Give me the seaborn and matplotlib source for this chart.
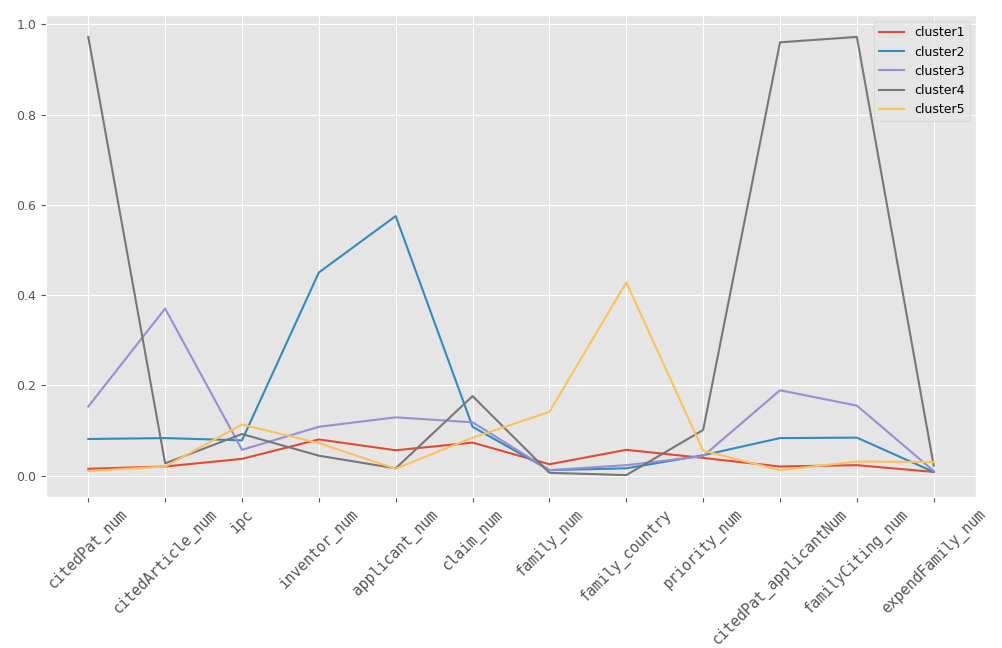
import matplotlib
matplotlib.use("Agg")
import matplotlib.pyplot as plt
import seaborn as sns
import pandas as pd

features = ["citedPat_num", "citedArticle_num", "ipc", "inventor_num", "applicant_num",
            "claim_num", "family_num", "family_country", "priority_num",
            "citedPat_applicantNum", "familyCiting_num", "expendFamily_num"]
cluster1 = [0.015, 0.020, 0.037, 0.080, 0.056, 0.073, 0.025, 0.057, 0.039, 0.020, 0.023, 0.008]
cluster2 = [0.081, 0.083, 0.078, 0.450, 0.575, 0.108, 0.012, 0.016, 0.045, 0.083, 0.084, 0.008]
cluster3 = [0.153, 0.370, 0.057, 0.108, 0.129, 0.118, 0.012, 0.023, 0.043, 0.189, 0.155, 0.010]
cluster4 = [0.972, 0.027, 0.092, 0.044, 0.016, 0.176, 0.006, 0.001, 0.101, 0.960, 0.972, 0.022]
cluster5 = [0.010, 0.020, 0.113, 0.072, 0.015, 0.084, 0.141, 0.428, 0.055, 0.012, 0.031, 0.030]
names = ["cluster1", "cluster2", "cluster3", "cluster4", "cluster5"]
colors = ["#E24A33", "#348ABD", "#988ED5", "#777777", "#FBC15E"]

plt.style.use("ggplot")
rows = []
for n, vals in zip(names, [cluster1, cluster2, cluster3, cluster4, cluster5]):
    for i, v in enumerate(vals):
        rows.append({"pos": i, "value": v, "cluster": n})
df = pd.DataFrame(rows)

fig = plt.figure(figsize=(10.03, 6.48), dpi=100)
ax = fig.add_axes([46/1003, 1-497/648, (976-46)/1003, (497-15)/648])
sns.lineplot(data=df, x="pos", y="value", hue="cluster", palette=colors, ax=ax,
             linewidth=1.5, legend=True)
ax.set_xticks(range(len(features)))
ax.set_xticklabels(features, rotation=45, fontsize=10.5, family="DejaVu Sans Mono")
ax.tick_params(axis="y", labelsize=9)
ax.set_xlabel("")
ax.set_ylabel("")
ax.margins(x=0.05, y=0.05)
leg = ax.legend(loc="upper right", fontsize=9)
fig.savefig("out.png", dpi=100)
